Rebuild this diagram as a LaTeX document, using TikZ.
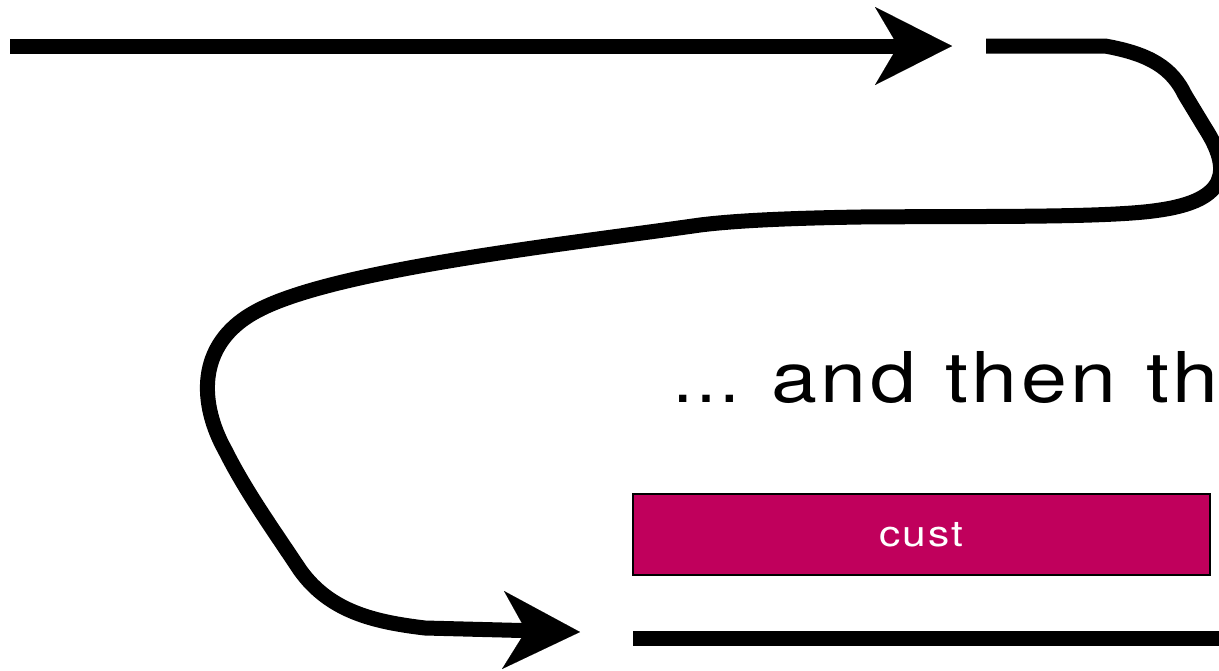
\documentclass[tikz,border=0pt]{standalone}
\usepackage{fontspec}
\setmainfont{TeX Gyre Heros}
\newfontfamily\widefont[FakeStretch=1.18, LetterSpace=5, WordSpace=1.12]{TeX Gyre Heros}
\newfontfamily\ellfont{TeX Gyre Heros}
\usetikzlibrary{arrows.meta}
\definecolor{boxmag}{RGB}{192,0,92}
\begin{document}
\begin{tikzpicture}[x=0.5pt,y=-0.5pt,
  flow/.style={line width=7.5pt, line join=round},
  bigtip/.style={-{Stealth[length=38.5pt,width=39pt,inset=11.5pt,line width=0.01pt]}},
  custbox/.style={draw=black, line width=1pt, fill=boxmag, text=white, inner sep=0pt,
    minimum width=288.5pt, minimum height=40.5pt, font=\widefont\fontsize{18pt}{22pt}\selectfont}]
\useasboundingbox (0,0) rectangle (1219,670);
\clip (0,0) rectangle (1219,670);
% top straight arrow
\coordinate (a0) at (10,46);
\coordinate (a1) at (952,46);
\draw[flow,bigtip] (a0) -- (a1);
% long winding arrow
\coordinate (b0) at (986,46);
\coordinate (b1) at (580,632);
\draw[flow,bigtip] (b0) -- (1105,46)
  .. controls (1150,54) and (1172,68) .. (1185,95)
  -- (1205,128)
  .. controls (1232,170) and (1228,200) .. (1160,210)
  .. controls (1110,218) and (980,216) .. (860,217)
  .. controls (800,218) and (740,220) .. (700,225)
  .. controls (560,245) and (330,270) .. (255,312)
  .. controls (195,345) and (200,405) .. (225,450)
  .. controls (245,490) and (270,525) .. (300,570)
  .. controls (330,612) and (375,622) .. (425,628)
  -- (b1);
% bottom line
\coordinate (c0) at (633,638);
\coordinate (c1) at (1230,638);
\draw[line width=7.5pt] (c0) -- (c1);
% text
\node[anchor=base west, inner sep=0pt] (caption) at (671,402)
  {{\ellfont\fontsize{35pt}{42pt}\selectfont …}\hspace{15pt}{\widefont\fontsize{35pt}{42pt}\selectfont and then th}};
% box
\node[custbox] (cust) at (921.5,534.5) {cust};
\end{tikzpicture}
\end{document}
